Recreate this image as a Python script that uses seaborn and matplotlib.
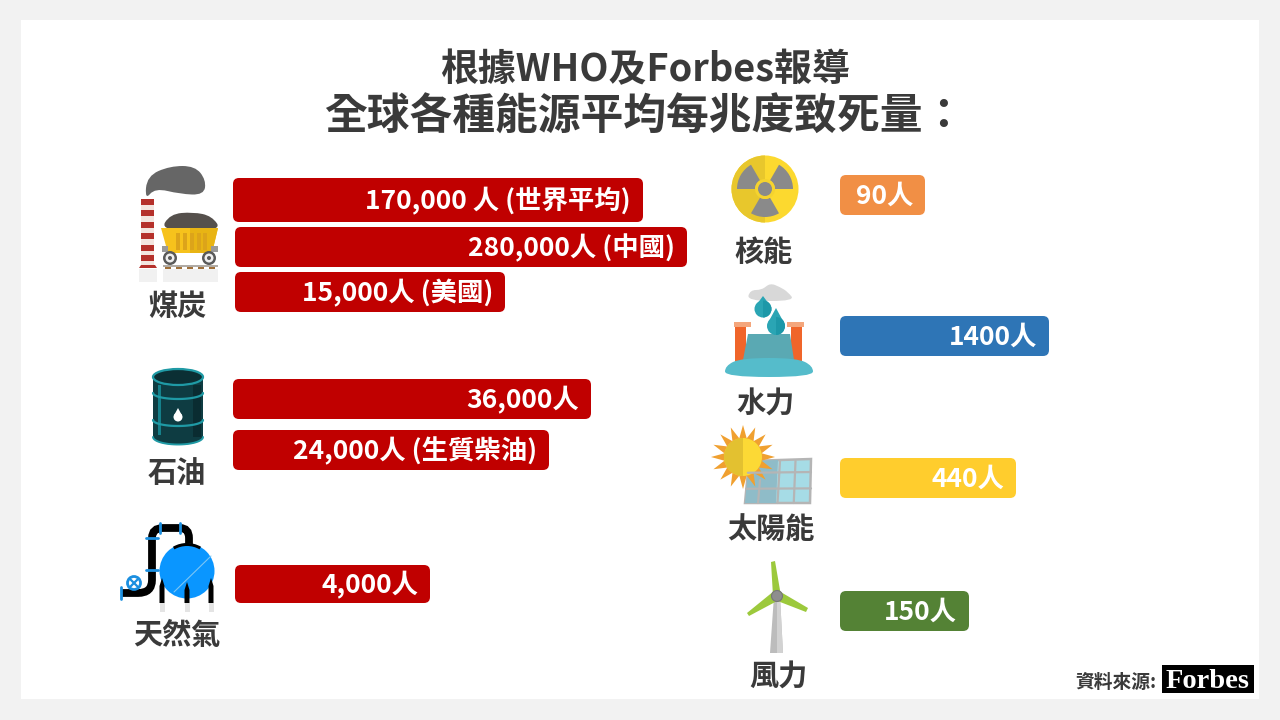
import numpy as np
import matplotlib
matplotlib.use("Agg")
import matplotlib.pyplot as plt
from matplotlib.patches import FancyBboxPatch, Polygon, Circle, Wedge, Rectangle, Ellipse, PathPatch
from matplotlib.path import Path
import seaborn as sns

sns.set_theme(style="white")
plt.rcParams['font.family'] = ['Noto Sans CJK TC', 'DejaVu Sans']

# ---- data ----
title_top = "根據WHO及Forbes報導"
title_main = "全球各種能源平均每兆度致死量："
source_text = "資料來源:"

bar_labels = ["170,000 人 (世界平均)", "280,000人 (中國)", "15,000人 (美國)",
              "36,000人", "24,000人 (生質柴油)", "4,000人",
              "90人", "1400人", "440人", "150人"]
# deaths per trillion kWh as printed in the chart
bar_values = [170000, 280000, 15000, 36000, 24000, 4000, 90, 1400, 440, 150]
# the source graphic's bars are not to scale: drawn lengths
bar_lengths = [410, 452, 270, 358, 316, 195, 85, 209, 176, 129]
bar_colors = ["#c00000"] * 6 + ["#f18f45", "#2e75b6", "#ffcd2d", "#548235"]
# bar frame (left, top, height) in px
bar_frames = [(233, 178, 44), (235, 227, 40), (235, 272, 40), (233, 379, 40), (233, 430, 40),
              (235, 565, 38), (840, 175, 40), (840, 316, 40), (840, 458, 40), (840, 591, 40)]

source_names = ["煤炭", "石油", "天然氣", "核能", "水力", "太陽能", "風力"]
name_pos = [(177, 306), (177, 473), (177, 635), (764, 252), (765, 404), (771, 530), (778, 677)]

W, H = 1280, 720
DARK = "#3a3a3a"
fig = plt.figure(figsize=(12.8, 7.2), dpi=100, facecolor="#f2f2f2")

ov = fig.add_axes([0, 0, 1, 1], zorder=5)
ov.set_xlim(0, W)
ov.set_ylim(H, 0)
ov.axis("off")
ov.patch.set_alpha(0)

bg = fig.add_axes([0, 0, 1, 1], zorder=0)
bg.set_xlim(0, W)
bg.set_ylim(H, 0)
bg.axis("off")
bg.add_patch(Rectangle((21, 20), 1238, 679, color="white", lw=0))

# ---- bars ----
for label, length, color, (left, top, h) in zip(bar_labels, bar_lengths, bar_colors, bar_frames):
    ax = fig.add_axes([left / W, 1 - (top + h) / H, length / W, h / H], zorder=2)
    sns.barplot(x=[length], y=[label], color=color, saturation=1, width=1, orient="h", ax=ax)
    ax.set_xlim(0, length)
    ax.axis("off")
    p = ax.patches[0]
    p.set_visible(False)
    r = 6
    ov.add_patch(FancyBboxPatch((left + r, top + r), length - 2 * r, h - 2 * r,
                                boxstyle=f"round,pad={r},rounding_size={r}",
                                fc=color, ec="none", lw=0, zorder=2))
    ov.text(left + length - 12, top + h / 2 + 1, label, ha="right", va="center",
            fontsize=19, fontweight="bold", color="white", zorder=3)

# ---- text ----
ov.text(645, 70, title_top, ha="center", va="center", fontsize=27.3, fontweight="bold", color=DARK)
ov.text(645, 117, title_main, ha="center", va="center", fontsize=30.8, fontweight="bold", color=DARK)
for n, (x, y) in zip(source_names, name_pos):
    ov.text(x, y, n, ha="center", va="center", fontsize=21, fontweight="bold", color=DARK)
ov.text(1116, 682, source_text, ha="center", va="center", fontsize=13.5, fontweight="bold", color=DARK)
ov.add_patch(Rectangle((1162, 665), 92, 28, fc="black", ec="none"))
ov.text(1208, 682, "Forbes", ha="center", va="center", fontsize=20.5, fontweight="bold",
        color="white", family="Liberation Serif")


def add(p):
    ov.add_patch(p)
    return p


def blob(pts, color, **kw):
    n = len(pts)
    m0 = ((pts[-1][0] + pts[0][0]) / 2, (pts[-1][1] + pts[0][1]) / 2)
    verts = [m0]
    codes = [Path.MOVETO]
    for i in range(n):
        a, b = pts[i], pts[(i + 1) % n]
        mid = ((a[0] + b[0]) / 2, (a[1] + b[1]) / 2)
        verts += [a, mid]
        codes += [Path.CURVE3, Path.CURVE3]
    add(PathPatch(Path(verts, codes), fc=color, ec="none", **kw))


def drop(cx, cy, r, color, shade=None, top=None):
    top = top if top else 1.9 * r
    add(Polygon([(cx, cy - top), (cx - r * 0.92, cy - r * 0.3), (cx + r * 0.92, cy - r * 0.3)], fc=color, ec="none"))
    add(Circle((cx, cy), r, fc=color, ec="none"))
    if shade:
        add(Wedge((cx, cy), r, -90, 90, fc=shade, ec="none"))


# ---- coal icon ----
blob([(145, 200), (147, 176), (170, 166), (195, 166), (206, 180), (204, 195), (180, 194), (155, 188)], "#666666")
add(Rectangle((141, 199), 13, 68, fc="#f3e5df", ec="none"))
for y in [199, 210, 222, 233, 245, 255]:
    add(Rectangle((141, y), 13, 6, fc="#b5302a", ec="none"))
add(Polygon([(139, 268), (157, 268), (155, 265), (141, 265)], fc="#b5302a", ec="none"))
add(Rectangle((139, 269), 18, 13, fc="#f1f1f1", ec="none"))
add(Rectangle((163, 269), 55, 13, fc="#f1f1f1", ec="none"))
blob([(160, 231), (170, 214), (193, 212), (212, 216), (222, 231)], "#55504c")
add(Polygon([(161, 228), (218, 228), (212, 253), (168, 253)], fc="#f6c21c", ec="none"))
add(Polygon([(190, 228), (218, 228), (212, 253), (190, 253)], fc="#e8b414", ec="none"))
for x in [176, 183, 190, 197, 203]:
    add(Rectangle((x, 233), 4, 17, fc="#dca41a", ec="none"))
add(Rectangle((162, 246), 6, 6, fc="#9a9a9a", ec="none"))
add(Rectangle((211, 246), 7, 6, fc="#9a9a9a", ec="none"))
for cx in [170, 209]:
    add(Circle((cx, 258), 7, fc="#5a5a5a", ec="none"))
    add(Circle((cx, 258), 4.5, fc="#efefef", ec="none"))
    add(Circle((cx, 258), 2, fc="#5a5a5a", ec="none"))
add(Rectangle((163, 265), 55, 2, fc="#b0aba5", ec="none"))
for x in [165, 176, 187, 198, 209]:
    add(Rectangle((x, 267), 6, 2, fc="#a0703a", ec="none"))

# ---- oil barrel ----
add(Rectangle((153, 377), 50, 60, fc="#0e3c42", ec="none"))
add(Ellipse((178, 437), 50, 16, fc="#0e3c42", ec="none"))
add(Rectangle((158, 385), 3, 50, fc="#15808a", ec="none"))
add(Rectangle((193, 385), 8, 52, fc="#0a2c31", ec="none"))
t = np.linspace(0, np.pi, 30)
for y in [393, 420]:
    ov.plot(178 + 25 * np.cos(t), y + 6 * np.sin(t), color="#1f9aa5", lw=1.6, solid_capstyle="round")
ov.plot(178 + 25 * np.cos(t), 437 + 7.5 * np.sin(t), color="#1f9aa5", lw=1.4)
add(Ellipse((178, 377), 50, 16, fc="#0b2f34", ec="#1f9aa5", lw=1.6))
drop(178, 417, 4.5, "white", top=9)

# ---- gas icon ----
pipe = Path([(121, 593), (138, 593), (152, 593), (152, 580), (152, 538), (152, 528), (163, 528),
             (180, 528), (189, 528), (189, 538), (189, 548)],
            [Path.MOVETO, Path.LINETO, Path.CURVE3, Path.CURVE3, Path.LINETO, Path.CURVE3, Path.CURVE3,
             Path.LINETO, Path.CURVE3, Path.CURVE3, Path.LINETO])
add(PathPatch(pipe, fc="none", ec="black", lw=5.6, capstyle="butt"))
add(Circle((187, 571), 27.5, fc="#0a96ff", ec="none"))
ov.plot([174, 211], [592, 556], color="#7cc6f5", lw=0.8)
add(Wedge((187, 571), 28, 240, 300, width=3, fc="black", ec="none"))
for x in [162, 187, 211]:
    tip = 582 if x == 187 else 578
    add(Rectangle((x - 2.5, 603), 5, 9, fc="#e4e4e4", ec="none"))
    add(Polygon([(x - 2.5, 603), (x + 2.5, 603), (x + 2.5, tip + 8), (x, tip), (x - 2.5, tip + 8)], fc="black", ec="none"))
for (x0, y0, x1, y1) in [(146, 538, 158, 538), (146, 570, 158, 570), (160, 523, 160, 533), (180, 523, 180, 533),
                         (121, 587, 121, 599)]:
    ov.plot([x0, x1], [y0, y1], color="#1b8fe0", lw=2, solid_capstyle="round")
add(Circle((134, 583), 6.5, fc="white", ec="#1b8fe0", lw=2))
ov.plot([130, 138], [579, 587], color="#1b8fe0", lw=1.6)
ov.plot([130, 138], [587, 579], color="#1b8fe0", lw=1.6)

# ---- nuclear ----
add(Circle((765, 189), 33.5, fc="#fcd92f", ec="none"))
add(Wedge((765, 189), 33.5, 90, 270, fc="#e8c72c", ec="none"))
for a in [60, 180, 300]:
    add(Wedge((765, 189), 28, a, a + 60, width=18, fc="#8a8a8a", ec="none"))
add(Circle((765, 189), 10, fc="#f5d32e", ec="none"))
add(Circle((765, 189), 7, fc="#8a8a8a", ec="none"))

# ---- hydro ----
blob([(747, 301), (750, 290), (762, 290), (770, 283), (780, 287), (788, 292), (795, 301)], "#d8d8d8")
add(Rectangle((735, 326), 11, 38, fc="#f0652a", ec="none"))
add(Rectangle((791, 326), 11, 38, fc="#f0652a", ec="none"))
add(Rectangle((734, 322), 17, 5, fc="#f4a67c", ec="none"))
add(Rectangle((787, 322), 17, 5, fc="#f4a67c", ec="none"))
add(Polygon([(748, 334), (790, 334), (794, 360), (743, 360)], fc="#5aa9b3", ec="none"))
blob([(741, 358), (797, 358), (813, 366), (813, 377), (725, 377), (725, 366)], "#55bccb")
drop(763, 309, 8.5, "#2aa5b4", shade="#1d98a8", top=13)
drop(776, 326, 9, "#2aa5b4", shade="#1d98a8", top=18)

# ---- solar ----
add(Polygon([(749, 461), (811, 459), (810, 503), (745, 503)], fc="#a6dce6", ec="#b5b5b5", lw=1.8))
add(Polygon([(749, 461), (778, 460), (776, 503), (745, 503)], fc="#8fbcc8", ec="none"))
for f in [1 / 2, 3 / 4]:
    ov.plot([749 + 62 * f, 745 + 65 * f], [461, 503], color="#b5b5b5", lw=1.6)
for f in [0.28, 0.66]:
    ov.plot([749 - 4 * f, 811], [461 + 42 * f, 460 + 43 * f], color="#b5b5b5", lw=1.6)
ov.plot([760, 758], [480, 503], color="#b5b5b5", lw=1.6)
n_pts = 32
ang = np.radians(np.arange(0, 360, 360 / n_pts))
rad = np.where(np.arange(n_pts) % 2 == 0, 32, 19)
add(Polygon(np.c_[743 + rad * np.cos(ang), 457 + rad * np.sin(ang)], fc="#f0a030", ec="none"))
add(Circle((743, 457), 19, fc="#fcd935", ec="none"))
add(Wedge((743, 457), 19, 90, 270, fc="#e3c130", ec="none"))

# ---- wind ----
add(Polygon([(774, 596), (780, 596), (783, 653), (770, 653)], fc="#bcbcbc", ec="none"))
add(Polygon([(777, 596), (780, 596), (783, 653), (777, 653)], fc="#d2d2d2", ec="none"))
add(Polygon([(771, 562), (775, 561), (781, 596), (773, 596)], fc="#9cc93c", ec="none"))
add(Polygon([(749, 616), (747, 613), (774, 591), (779, 600)], fc="#9cc93c", ec="none"))
add(Polygon([(808, 608), (806, 612), (775, 600), (779, 591)], fc="#9cc93c", ec="none"))
add(Circle((777, 596), 5.5, fc="#8e8e8e", ec="#777777", lw=0.8))

fig.savefig("out.png", dpi=100, facecolor=fig.get_facecolor())
